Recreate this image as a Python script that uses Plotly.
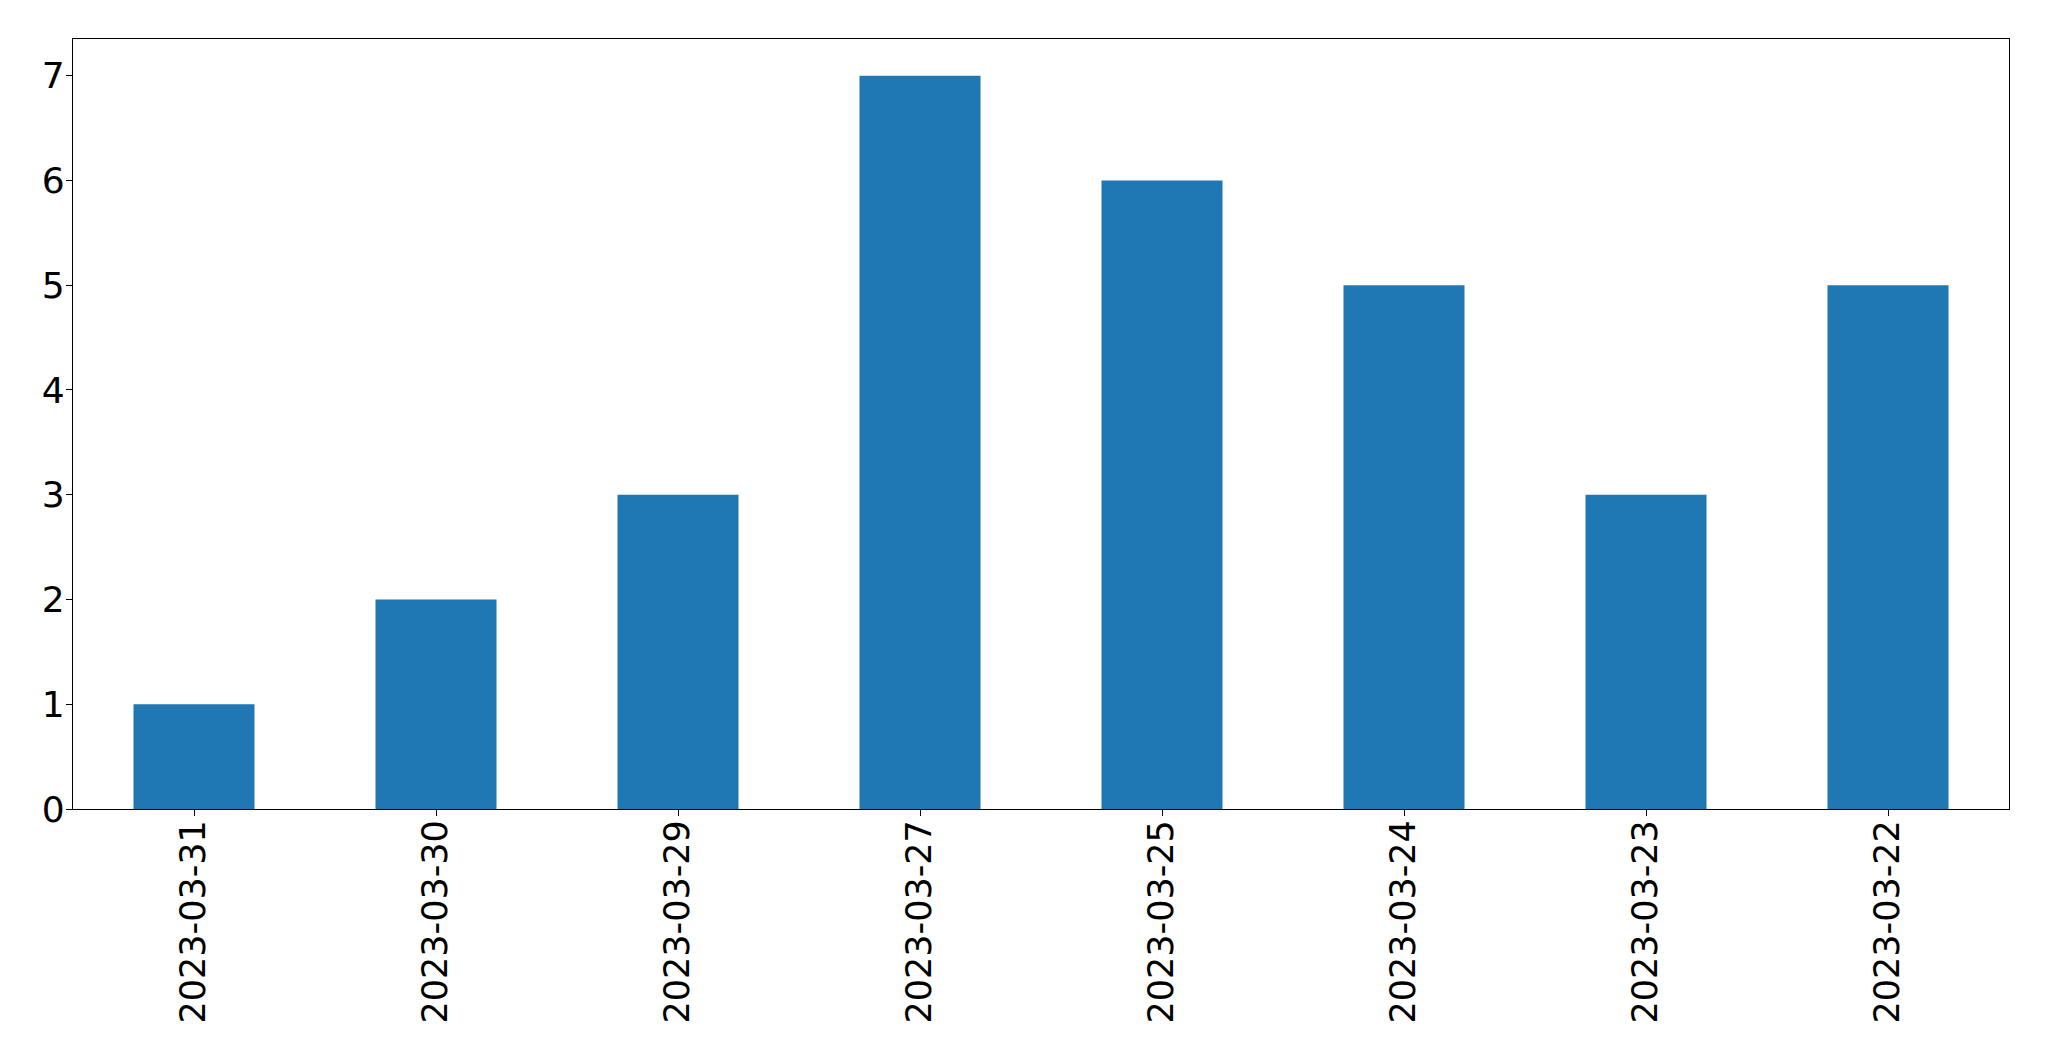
import plotly.graph_objects as go

dates = ["2023-03-31", "2023-03-30", "2023-03-29", "2023-03-27",
         "2023-03-25", "2023-03-24", "2023-03-23", "2023-03-22"]
counts = [1, 2, 3, 7, 6, 5, 3, 5]

# page body has an 8px default margin; size figure to compensate
W, H = 2033, 1045
fig = go.Figure(go.Bar(x=dates, y=counts, width=0.5, marker_color="#1f77b4",
                       marker_line_width=0))

yfont = dict(family="DejaVu Sans", size=36, color="black")
xfont = dict(family="DejaVu Sans", size=35, color="black")
fig.update_layout(
    width=W, height=H,
    margin=dict(l=65, r=32, t=31, b=244, pad=0),
    paper_bgcolor="white", plot_bgcolor="white",
    showlegend=False,
    font=yfont,
)
fig.update_xaxes(type="category", range=[-0.5, 7.5], tickangle=-90,
                 automargin=False,
                 showline=True, linecolor="black", linewidth=1.3, mirror=True,
                 ticks="outside", ticklen=6, tickwidth=1.3, tickcolor="black",
                 showgrid=False, zeroline=False, tickfont=xfont,
                 ticklabelstandoff=-10)
fig.update_yaxes(range=[0, 7.35], dtick=1, tick0=0, automargin=False,
                 showline=True, linecolor="black", linewidth=1.3, mirror=True,
                 ticks="outside", ticklen=6, tickwidth=1.3, tickcolor="black",
                 showgrid=False, zeroline=False, tickfont=yfont,
                 ticklabelstandoff=-6)

fig.write_html("out.html")
